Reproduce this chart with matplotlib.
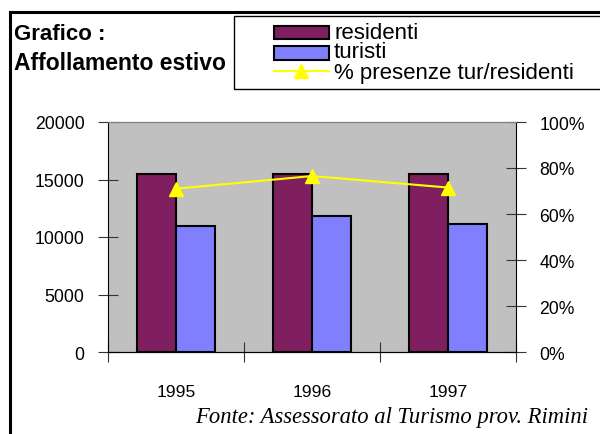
import matplotlib
matplotlib.use('Agg')
import matplotlib.pyplot as plt
from matplotlib.patches import Rectangle
from matplotlib.lines import Line2D
from matplotlib.ticker import PercentFormatter

# Dati
anni = ['1995', '1996', '1997']
residenti = [15500, 15500, 15500]
turisti = [11000, 11850, 11100]
perc_tur_res = [0.71, 0.765, 0.715]

W, H = 600, 435
fig = plt.figure(figsize=(6, 4.35), dpi=100)
plt.rcParams['font.family'] = ['Liberation Sans', 'DejaVu Sans']

def px(x, y):
    # pixel (top-left origin) -> figure coords
    return x / W, 1 - y / H

# Area del grafico
x0, y0 = px(108, 353)
x1, y1 = px(516, 123)
ax = fig.add_axes([x0, y0, x1 - x0, y1 - y0])
ax.set_facecolor('#c0c0c0')

xs = list(range(len(anni)))
bw = 0.29
ax.bar([x - bw / 2 for x in xs], residenti, width=bw, color='#7f1f5f',
       edgecolor='black', linewidth=1.5, zorder=3)
ax.bar([x + bw / 2 for x in xs], turisti, width=bw, color='#8080ff',
       edgecolor='black', linewidth=1.5, zorder=3)
ax.set_xlim(-0.5, 2.5)
ax.set_ylim(0, 20000)
ax.set_yticks([0, 5000, 10000, 15000, 20000])
ax.tick_params(axis='y', direction='inout', length=14, width=0.8, pad=10,
               labelsize=12.7, color='#333333')
ax.set_xticks(xs)
ax.set_xticklabels(anni)
ax.tick_params(axis='x', length=0, pad=23, labelsize=12.6)
ax.set_xticks([-0.5, 0.5, 1.5, 2.5], minor=True)
ax.tick_params(axis='x', which='minor', direction='inout', length=14, width=0.8,
               color='#333333')
ax.spines['top'].set_color('#808080')
ax.spines['right'].set_visible(False)

ax2 = ax.twinx()
ax2.plot(xs, perc_tur_res, color='#ffff00', linewidth=1.5, marker='^',
         markersize=9.5, zorder=5)
ax2.set_ylim(0, 1)
ax2.set_yticks([0, 0.2, 0.4, 0.6, 0.8, 1.0])
ax2.yaxis.set_major_formatter(PercentFormatter(1.0, decimals=0))
ax2.tick_params(axis='y', direction='inout', length=14, width=0.8, pad=10,
                labelsize=12.7, color='#333333')
ax2.spines['top'].set_color('#808080')
ax2.spines['left'].set_visible(False)

# Cornice esterna
fx, fy = px(10, 13)
fig.add_artist(Line2D([fx, fx], [fy, -0.1], color='black', linewidth=2.2,
                      transform=fig.transFigure))
fig.add_artist(Line2D([fx, 1.1], [fy, fy], color='black', linewidth=2.2,
                      transform=fig.transFigure))

# Titolo
tx, ty = px(14, 40)
fig.text(tx, ty, 'Grafico :', fontsize=16, fontweight='bold', va='baseline')
tx, ty = px(14, 70)
fig.text(tx, ty, 'Affollamento estivo', fontsize=16.5, fontweight='bold',
         va='baseline')

# Legenda
lx, ly = px(234, 90)
lx2, ly2 = px(610, 17)
fig.add_artist(Rectangle((lx, ly), lx2 - lx, ly2 - ly, facecolor='white',
                         edgecolor='black', linewidth=1,
                         transform=fig.transFigure))
px0, py0 = px(274, 40)
px1, py1 = px(329, 27)
fig.add_artist(Rectangle((px0, py0), px1 - px0, py1 - py0, facecolor='#7f1f5f',
                         edgecolor='black', linewidth=1.5,
                         transform=fig.transFigure))
px0, py0 = px(274, 61)
px1, py1 = px(329, 47)
fig.add_artist(Rectangle((px0, py0), px1 - px0, py1 - py0, facecolor='#8080ff',
                         edgecolor='black', linewidth=1.5,
                         transform=fig.transFigure))
ax_a, ay_a = px(274, 72)
ax_b, _ = px(329, 72)
fig.add_artist(Line2D([ax_a, ax_b], [ay_a, ay_a], color='#ffff00', linewidth=1.5,
                      transform=fig.transFigure))
fig.add_artist(Line2D([(ax_a + ax_b) / 2], [ay_a], color='#ffff00', marker='^',
                      markersize=9.5, linestyle='none',
                      transform=fig.transFigure))
for label, yy in [('residenti', 39), ('turisti', 58), ('% presenze tur/residenti', 79)]:
    tx, ty = px(334, yy)
    fig.text(tx, ty, label, fontsize=16, va='baseline')

# Fonte
sx, sy = px(588, 423)
fig.text(sx, sy, 'Fonte: Assessorato al Turismo prov. Rimini', fontsize=16.3,
         family='Liberation Serif', style='italic', ha='right', va='baseline')

fig.savefig('out.png', dpi=100)
